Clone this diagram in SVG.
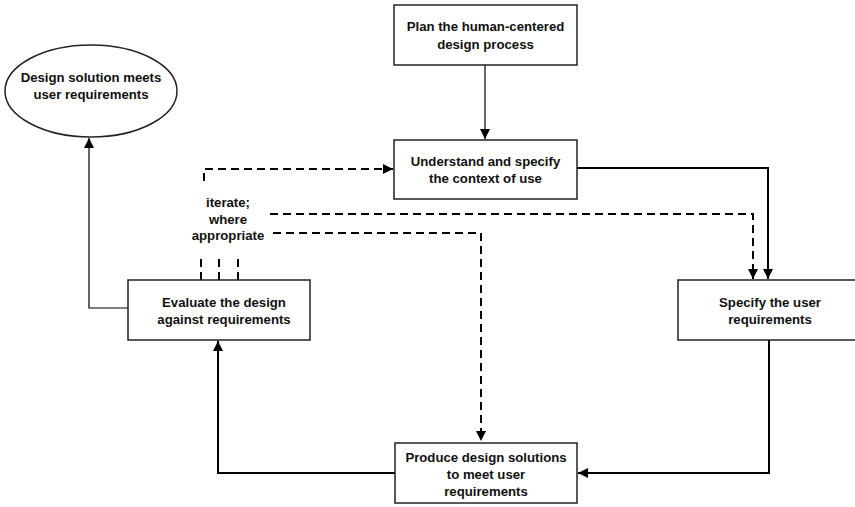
<svg xmlns="http://www.w3.org/2000/svg" width="855" height="507" viewBox="0 0 855 507">
<defs>
<marker id="ah" viewBox="0 0 10 10" refX="10" refY="5" markerWidth="10" markerHeight="10" markerUnits="userSpaceOnUse" orient="auto">
<path d="M0,0 L10,5 L0,10 Z" fill="#000"/>
</marker>
<style>
.box{fill:#fff;stroke:#222;stroke-width:1.5}
.t{font-family:"Liberation Sans",Arial,sans-serif;font-weight:bold;font-size:13.2px;text-anchor:middle;fill:#111}
.s{fill:none;stroke:#000;stroke-width:2}
.thin{fill:none;stroke:#000;stroke-width:1.2}
.d{fill:none;stroke:#000;stroke-width:2;stroke-dasharray:8 5}
</style>
</defs>
<rect width="855" height="507" fill="#fff"/>
<g id="connectors">
<path class="thin" d="M485,65 V139" marker-end="url(#ah)"/>
<path class="s" d="M577,168 H768 V279" marker-end="url(#ah)"/>
<path class="s" d="M769,340 V473 H578" marker-end="url(#ah)"/>
<path class="s" d="M395,473 H218 V341" marker-end="url(#ah)"/>
<path class="thin" d="M128,308 H89 V138" marker-end="url(#ah)"/>
<path class="d" d="M204,181 V169 H393" marker-end="url(#ah)"/>
<path class="d" d="M270,214 H753 V279" marker-end="url(#ah)"/>
<path class="d" d="M273,233 H481 V441" marker-end="url(#ah)"/>
<path class="d" d="M201,280 V255 M219,280 V255 M238,280 V255"/>
</g>
<g id="plan">
<rect class="box" x="394" y="5" width="183" height="60"/>
<text class="t" x="485.5" y="31">Plan the human-centered</text>
<text class="t" x="485.5" y="49">design process</text>
</g>
<g id="understand">
<rect class="box" x="394" y="140" width="183" height="59"/>
<text class="t" x="485.5" y="166">Understand and specify</text>
<text class="t" x="485.5" y="183">the context of use</text>
</g>
<g id="specify">
<rect class="box" x="678" y="280" width="185" height="60"/>
<text class="t" x="770" y="307">Specify the user</text>
<text class="t" x="770" y="324">requirements</text>
</g>
<g id="produce">
<rect class="box" x="395" y="443" width="182" height="60"/>
<text class="t" x="486" y="462">Produce design solutions</text>
<text class="t" x="486" y="479">to meet user</text>
<text class="t" x="486" y="496">requirements</text>
</g>
<g id="evaluate">
<rect class="box" x="128" y="280" width="182" height="60"/>
<text class="t" x="224" y="307">Evaluate the design</text>
<text class="t" x="224" y="324">against requirements</text>
</g>
<g id="meets">
<ellipse class="box" cx="91" cy="91" rx="86" ry="46"/>
<text class="t" x="91" y="82">Design solution meets</text>
<text class="t" x="91" y="99">user requirements</text>
</g>
<g id="iterate-label">
<text class="t" x="228" y="207">iterate;</text>
<text class="t" x="228" y="224">where</text>
<text class="t" x="228" y="240">appropriate</text>
</g>
</svg>
